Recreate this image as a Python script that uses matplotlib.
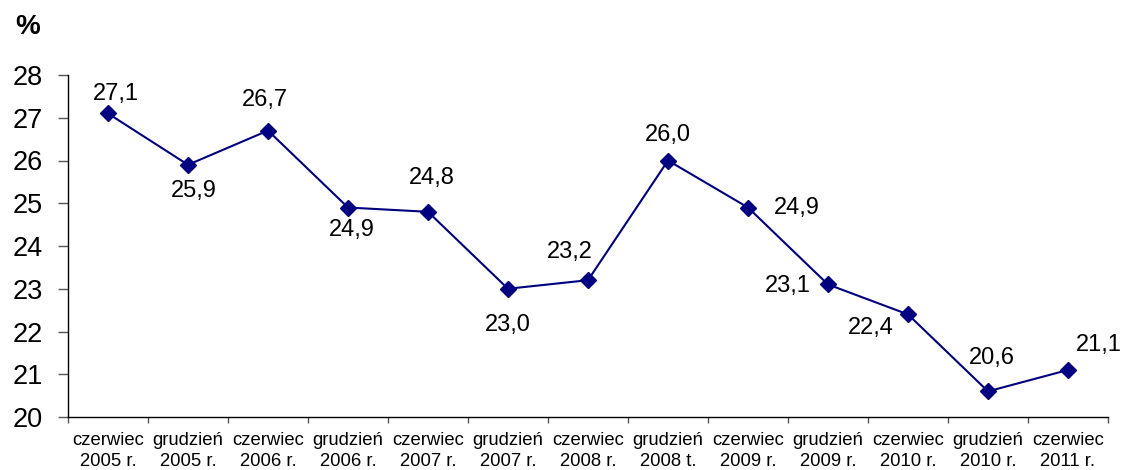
import matplotlib
matplotlib.use("Agg")
import matplotlib.pyplot as plt
from matplotlib.ticker import FixedLocator, NullFormatter

plt.rcParams['font.family'] = ['Liberation Sans', 'DejaVu Sans']

# Period labels (month + year) and the share in percent
months = ["czerwiec", "grudzień", "czerwiec", "grudzień", "czerwiec", "grudzień",
          "czerwiec", "grudzień", "czerwiec", "grudzień", "czerwiec", "grudzień",
          "czerwiec"]
years = ["2005 r.", "2005 r.", "2006 r.", "2006 r.", "2007 r.", "2007 r.",
         "2008 r.", "2008 t.", "2009 r.", "2009 r.", "2010 r.", "2010 r.",
         "2011 r."]
values = [27.1, 25.9, 26.7, 24.9, 24.8, 23.0, 23.2, 26.0, 24.9, 23.1, 22.4, 20.6, 21.1]

# Label offsets in points (dx, dy) relative to each marker
label_offsets = [(6, 14), (4, -19), (-2, 22), (3, -16), (3, 24), (0, -26),
                 (-13, 20), (0, 18), (35, 0), (-29, -1), (-27, -10), (3, 24), (22, 18)]

fig = plt.figure(figsize=(11.22, 4.70), dpi=100)
ax = fig.add_axes([68 / 1122, 53 / 470, 1040 / 1122, 342 / 470])

x = list(range(len(values)))
ax.plot(x, values, color="#000080", linewidth=1.5, marker="D", markersize=8.5,
        markerfacecolor="#000080", markeredgecolor="#000080")

for xi, v, (dx, dy) in zip(x, values, label_offsets):
    ax.annotate(f"{v:.1f}".replace(".", ","), (xi, v), xytext=(dx, dy),
                textcoords="offset points", ha="center", va="center",
                fontsize=17, color="black")

ax.set_xlim(-0.5, len(values) - 0.5)
ax.set_ylim(20, 28)
ax.set_yticks(range(20, 29))
ax.tick_params(axis="y", labelsize=19.5, length=7, width=1, color="#555555",
               direction="out", pad=11)

# Category labels at centres, tick marks at category boundaries
ax.set_xticks(x)
ax.set_xticklabels([f"{m}\n{y}" for m, y in zip(months, years)], fontsize=13.3,
                   linespacing=1.3)
ax.tick_params(axis="x", which="major", length=0, pad=11)
ax.xaxis.set_minor_locator(FixedLocator([i - 0.5 for i in range(len(values) + 1)]))
ax.xaxis.set_minor_formatter(NullFormatter())
ax.tick_params(axis="x", which="minor", length=4, width=1, color="#555555",
               direction="out")

ax.spines["top"].set_visible(False)
ax.spines["right"].set_visible(False)
for s in ("left", "bottom"):
    ax.spines[s].set_linewidth(1)
    ax.spines[s].set_color("black")

fig.text(28 / 1122, 1 - 27 / 470, "%", fontsize=20, fontweight="bold",
         ha="center", va="center")

fig.savefig("out.png", dpi=100)
